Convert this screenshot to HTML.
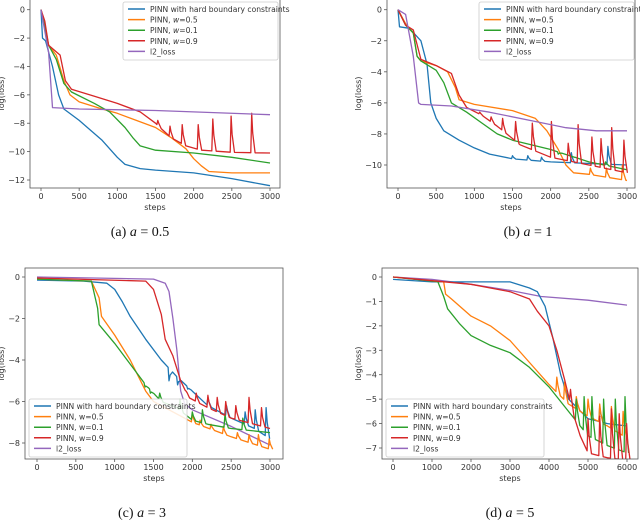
<!DOCTYPE html>
<html><head><meta charset="utf-8">
<style>
body{margin:0;background:#fff;}
svg{display:block;font-family:"DejaVu Sans","Liberation Sans",sans-serif;}
.cap{font-family:"Liberation Serif",serif;font-size:14px;}
</style></head>
<body>
<svg id="fig" width="640" height="532" viewBox="0 0 640 532"></svg>
<script>
const NS="http://www.w3.org/2000/svg";
const colors=["#1f77b4","#ff7f0e","#2ca02c","#d62728","#9467bd"];
const labels=["PINN with hard boundary constraints","PINN, w=0.5","PINN, w=0.1","PINN, w=0.9","l2_loss"];
const seriesNames=["hard-bc","w05","w01","w09","l2-loss"];

// ---- panel (a) data ----
const aXTicks=[0,500,1000,1500,2000,2500,3000];
const aYTicks=[0,-2,-4,-6,-8,-10,-12];
const aBlue=[[0,0],[20,-2],[60,-2.2],[150,-4],[230,-6],[300,-7],[500,-7.8],[800,-9.2],[1000,-10.4],[1100,-10.9],[1300,-11.2],[1500,-11.3],[2000,-11.5],[2500,-11.9],[3000,-12.4]];
const aOrange=[[0,0],[50,-1],[100,-2.5],[200,-3.2],[300,-5],[380,-6],[500,-6.5],[800,-7],[1000,-7.3],[1200,-7.7],[1500,-8.3],[1700,-9],[1900,-9.8],[2000,-10.5],[2100,-11],[2200,-11.4],[2500,-11.5],[3000,-11.5]];
const aGreen=[[0,0],[100,-2.5],[200,-3.5],[300,-5.2],[400,-5.8],[700,-6.6],[900,-7.2],[1100,-8.3],[1200,-9],[1300,-9.6],[1500,-9.9],[2000,-10.1],[2500,-10.4],[3000,-10.8]];
const aRed=[[0,0],[50,-0.8],[100,-2.5],[250,-3.2],[320,-5],[400,-5.6],[700,-6.1],[1000,-6.6],[1300,-7.2],[1500,-8],[1700,-9],[1900,-9.6],[2100,-9.9],[2500,-10.05],[3000,-10.1]];
const aRedSpikes=[[1530,-7.8],[1690,-8.2],[1850,-8.1],[2060,-8.1],[2250,-7.7],[2490,-7.5],[2760,-7.3]];
const aPurple=[[0,0],[100,-3],[150,-6.9],[500,-7],[1500,-7.1],[3000,-7.4]];

// ---- panel (b) data ----
const bXTicks=[0,500,1000,1500,2000,2500,3000];
const bYTicks=[0,-2,-4,-6,-8,-10];
const bBlue=[[0,0],[20,-1.1],[150,-1.2],[300,-2],[380,-3.5],[430,-6],[500,-7],[600,-7.8],[800,-8.4],[1000,-8.9],[1200,-9.3],[1500,-9.6],[2000,-9.8],[3000,-10]];
const bBlueSpikes=[[1500,-9.4],[1700,-9.4],[1880,-9.5],[2270,-9.2],[2750,-8.8]];
const bOrange=[[0,0],[100,-0.9],[200,-1.5],[250,-3],[300,-3.3],[500,-3.6],[650,-4],[750,-5],[800,-5.8],[1000,-6.1],[1500,-6.5],[1800,-7],[1950,-7.8],[2100,-9],[2200,-10],[2300,-10.5],[2500,-10.6],[3000,-11]];
const bOrangeSpikes=[[2520,-10.2],[2730,-10.2],[2940,-10]];
const bGreen=[[0,0],[100,-1],[200,-1.5],[250,-3],[300,-3.3],[500,-3.9],[600,-4.7],[700,-6],[900,-6.6],[1100,-7.3],[1300,-8],[1500,-8.4],[2000,-9],[2500,-9.8],[3000,-10.3]];
const bGreenSpikes=[[2100,-9.3],[2310,-9.5],[2720,-9.8]];
const bRed=[[0,0],[100,-1],[200,-1.3],[300,-3.2],[500,-3.6],[700,-4.1],[800,-5.5],[900,-6.3],[1100,-6.8],[1300,-7.5],[1600,-8.7],[2000,-9.5],[2500,-10],[3000,-10.5]];
const bRedSpikes=[[1070,-6.6],[1220,-6.9],[1370,-7],[1540,-7.2],[1760,-7.3],[2010,-7.2],[2230,-8.6],[2360,-7.4],[2540,-8.2],[2660,-8.3],[2800,-7.6],[2960,-8.4]];
const bPurple=[[0,0],[100,-0.3],[200,-3],[270,-6],[300,-6.1],[700,-6.2],[1200,-6.6],[1800,-7.2],[2200,-7.6],[2600,-7.8],[3000,-7.8]];

// ---- panel (c) data ----
const cXTicks=[0,500,1000,1500,2000,2500,3000];
const cYTicks=[0,-2,-4,-6,-8];
const cBlue=[[0,-0.15],[600,-0.2],[900,-0.3],[1000,-0.6],[1100,-1.2],[1200,-1.9],[1400,-3],[1600,-4],[1800,-4.8],[2000,-5.5],[2200,-6.2],[2500,-6.8],[2800,-7.3],[3000,-7.8]];
const cBlueSpikes=[[1700,-5],[1810,-5.2],[1940,-5.4],[2200,-5.8],[2440,-6.2],[2680,-6.5],[2810,-6.4],[2950,-6.3]];
const cOrange=[[0,-0.1],[700,-0.2],[800,-1],[830,-1.9],[1000,-2.8],[1200,-4],[1400,-5.5],[1500,-6],[2000,-7],[2500,-7.7],[3000,-8.3]];
const cOrangeSpikes=[[2000,-6.6],[2100,-6.9],[2240,-7.1],[2400,-7.2],[2580,-7.5],[2730,-7.6],[2850,-7.6],[2990,-7.8]];
const cGreen=[[0,-0.1],[700,-0.2],[780,-1.5],[800,-2.3],[1000,-3.2],[1200,-4.2],[1400,-5.2],[1600,-6],[1800,-6.3],[2000,-6.9],[2200,-7.1],[2500,-7.3],[3000,-7.5]];
const cGreenSpikes=[[1390,-5.3],[1460,-5.6],[1580,-5.6],[1840,-5.9],[2000,-6.5],[2130,-6.4],[2420,-6.6],[2650,-6.8]];
const cRed=[[0,-0.05],[1400,-0.2],[1500,-0.6],[1600,-1.8],[1650,-3],[1750,-3.8],[1850,-5],[1950,-5.8],[2200,-6.3],[2500,-6.8],[3000,-7.3]];
const cRedSpikes=[[1920,-5.5],[2050,-5.6],[2200,-5.7],[2320,-5.8],[2430,-6],[2560,-6.2],[2730,-5.8],[2890,-6.3]];
const cPurple=[[0,0],[1500,-0.1],[1650,-0.3],[1700,-0.7],[1750,-2],[1800,-3.5],[1850,-5.5],[1900,-6.1],[2000,-6.4],[2500,-7.2],[3000,-8.1]];

// ---- panel (d) data ----
const dXTicks=[0,1000,2000,3000,4000,5000,6000];
const dYTicks=[0,-1,-2,-3,-4,-5,-6,-7];
const dBlue=[[0,-0.1],[1000,-0.2],[3000,-0.2],[3500,-0.45],[3700,-0.6],[3900,-1.2],[4100,-2.5],[4300,-4],[4500,-5],[5000,-5.8],[5500,-6],[6000,-6.1]];
const dBlueSpikes=[[4400,-4.6],[4700,-5],[5300,-5.3]];
const dOrange=[[0,0],[1300,-0.2],[1350,-0.7],[1500,-0.9],[2000,-1.6],[2500,-2],[3000,-2.6],[3500,-3.5],[4000,-4.4],[4500,-5.2],[5000,-5.7],[5500,-6.1],[6000,-6.6]];
const dOrangeSpikes=[[4200,-4.1],[4400,-4.3],[4700,-4.9],[5000,-5],[5300,-5.2],[5600,-5.3],[5900,-5.5]];
const dGreen=[[0,0],[1150,-0.2],[1300,-0.8],[1400,-1.3],[1700,-1.9],[2000,-2.4],[2500,-2.8],[3000,-3.1],[3500,-3.7],[4000,-4.5],[4500,-5.5],[5000,-6.5],[5500,-6.9],[6000,-7.2]];
const dGreenSpikes=[[4700,-5],[4900,-4.9],[5100,-4.9],[5400,-5],[5700,-5],[5950,-4.9]];
const dRed=[[0,0],[1000,-0.15],[2000,-0.3],[3000,-0.6],[3500,-0.9],[3700,-1.4],[4000,-2],[4200,-3],[4400,-4.2],[4600,-5.5],[4800,-6.5],[5000,-7.2],[5500,-7.4],[6000,-7.5]];
const dRedSpikes=[[4550,-4.6],[5000,-5.8],[5300,-5.7],[5600,-5.4],[5800,-5.6],[5990,-6]];
const dPurple=[[0,0],[1000,-0.1],[2000,-0.3],[3000,-0.55],[3800,-0.8],[5000,-0.95],[6000,-1.15]];

const fig=document.getElementById('fig');
function mk(tag,attrs,parent){const e=document.createElementNS(NS,tag);for(const k in attrs)e.setAttribute(k,attrs[k]);(parent||fig).appendChild(e);return e;}
function interp(pts,x){for(let i=1;i<pts.length;i++){if(x<=pts[i][0]){const a=pts[i-1],b=pts[i];return a[1]+(b[1]-a[1])*(x-a[0])/(b[0]-a[0]);}}return pts[pts.length-1][1];}
function withSpikes(pts,spikes,xmax){
  if(!spikes)return pts;
  const out=pts.slice();const w=xmax*0.004,dec=xmax*0.015;
  spikes.forEach(s=>{out.push([s[0]-w,interp(pts,s[0]-w)]);out.push([s[0],s[1]]);out.push([s[0]+dec*0.3,(s[1]+interp(pts,s[0]+dec*0.3))/2]);out.push([s[0]+dec,interp(pts,s[0]+dec)]);});
  const keep=out.filter(p=>!spikes.some(s=>p[0]>s[0]-w&&p[0]<s[0]+dec&&pts.includes(p)));
  return keep.sort((a,b)=>a[0]-b[0]);
}

function panel(cfg){
  const g=mk('g',{});
  
  
  const X=v=>cfg.x0+(v-cfg.xmin)*(cfg.x1-cfg.x0)/(cfg.xmax-cfg.xmin);
  const Y=v=>cfg.y0+(v-cfg.ymin)*(cfg.y1-cfg.y0)/(cfg.ymax-cfg.ymin);
  // series
  const clip='clip-'+cfg.name;
  const cp=mk('clipPath',{id:clip},g);mk('rect',{x:cfg.fl,y:cfg.ft,width:cfg.fr-cfg.fl,height:cfg.fb-cfg.ft},cp);
  const sg=mk('g',{'clip-path':'url(#'+clip+')'},g);
  const order=cfg.order||[0,1,2,3,4];
  order.forEach(i=>{
    const pts=withSpikes(cfg.series[i],cfg.spikes[i],cfg.xmax);
    const d=pts.map((p,j)=>(j?'L':'M')+X(p[0]).toFixed(1)+','+Y(p[1]).toFixed(1)).join('');
    const p=mk('path',{d:d,fill:'none',stroke:colors[i],'stroke-width':1.3,'stroke-linejoin':'round'},sg);
    
    
  });
  // frame
  const fr=mk('rect',{x:cfg.fl,y:cfg.ft,width:cfg.fr-cfg.fl,height:cfg.fb-cfg.ft,fill:'none',stroke:'#555','stroke-width':0.8},g);
  
  
  cfg.xt.forEach(t=>{const x=X(t);mk('line',{x1:x,x2:x,y1:cfg.fb,y2:cfg.fb+3,stroke:'#555','stroke-width':0.8},g);
    const tx=mk('text',{x:x,y:cfg.fb+11,'font-size':8,'text-anchor':'middle',fill:'#333'},g);tx.textContent=t;
    
    });
  cfg.yt.forEach(t=>{const y=Y(t);mk('line',{x1:cfg.fl-3,x2:cfg.fl,y1:y,y2:y,stroke:'#555','stroke-width':0.8},g);
    const tx=mk('text',{x:cfg.fl-5,y:y+3,'font-size':8,'text-anchor':'end',fill:'#333'},g);tx.textContent=t<0?'\u2212'+(-t):t;
    
    });
  const xl=mk('text',{x:(cfg.fl+cfg.fr)/2,y:cfg.fb+22,'font-size':8,'text-anchor':'middle',fill:'#333'},g);xl.textContent='steps';
  
  
  const yl=mk('text',{x:0,y:0,'font-size':8,'text-anchor':'middle',fill:'#333',transform:`translate(${cfg.ylx},${(cfg.ft+cfg.fb)/2}) rotate(-90)`},g);yl.textContent='log(loss)';
  
  
  // legend
  const L=cfg.leg;
  const lg=mk('g',{},g);
  
  
  mk('rect',{x:L.x,y:L.y,width:L.w,height:L.h,fill:'#fff','fill-opacity':0.85,stroke:'#ccc','stroke-width':0.8,rx:2},lg);
  for(let i=0;i<5;i++){
    const yy=L.y+7+i*10.6;
    const e=mk('g',{},lg);
    
    
    mk('line',{x1:L.x+5,x2:L.x+22,y1:yy,y2:yy,stroke:colors[i],'stroke-width':1.5},e);
    const t=mk('text',{x:L.x+27,y:yy+3,'font-size':7.6,fill:'#333'},e);
    if(cfg.italicW&&i>=1&&i<=3){t.appendChild(document.createTextNode('PINN, '));const ts=mk('tspan',{'font-style':'italic'},t);ts.textContent='w';t.appendChild(document.createTextNode(labels[i].slice(7)));}
    else t.textContent=labels[i];
  }
  const c=mk('text',{x:cfg.capx,y:cfg.capy,'text-anchor':'middle',class:'cap',fill:'#111'},g);
  c.innerHTML=cfg.cap;
  
  
}

panel({name:'panel-a',fl:30,fr:280,ft:-1,fb:188,x0:41,x1:270,xmin:0,xmax:3000,y0:9.7,y1:180,ymin:0,ymax:-12,
  xt:aXTicks,yt:aYTicks,ylx:4,series:[aBlue,aOrange,aGreen,aRed,aPurple],spikes:[null,null,null,aRedSpikes,null],
  leg:{x:123,y:2,w:155,h:58},italicW:true,capx:140,capy:236,cap:'(a) <tspan font-style="italic">a</tspan> = 0.5'});
panel({name:'panel-b',fl:387,fr:635,ft:-1,fb:188,x0:398,x1:627,xmin:0,xmax:3000,y0:9.7,y1:165,ymin:0,ymax:-10,
  xt:bXTicks,yt:bYTicks,ylx:361,series:[bBlue,bOrange,bGreen,bRed,bPurple],spikes:[bBlueSpikes,bOrangeSpikes,bGreenSpikes,bRedSpikes,null],
  leg:{x:479,y:2,w:155,h:58},capx:528,capy:236,cap:'(b) <tspan font-style="italic">a</tspan> = 1'});
panel({name:'panel-c',fl:25,fr:283,ft:268,fb:459,x0:37,x1:270,xmin:0,xmax:3000,y0:277,y1:443,ymin:0,ymax:-8,
  xt:cXTicks,yt:cYTicks,ylx:4,series:[cBlue,cOrange,cGreen,cRed,cPurple],spikes:[cBlueSpikes,cOrangeSpikes,cGreenSpikes,cRedSpikes,null],
  order:[4,0,1,2,3],
  leg:{x:29,y:399,w:158,h:58},capx:142,capy:517,cap:'(c) <tspan font-style="italic">a</tspan> = 3'});
panel({name:'panel-d',fl:382,fr:638,ft:268,fb:459,x0:393,x1:627,xmin:0,xmax:6000,y0:277,y1:448,ymin:0,ymax:-7,
  xt:dXTicks,yt:dYTicks,ylx:361,series:[dBlue,dOrange,dGreen,dRed,dPurple],spikes:[dBlueSpikes,dOrangeSpikes,dGreenSpikes,dRedSpikes,null],
  order:[4,0,1,2,3],
  leg:{x:386,y:399,w:158,h:58},capx:510,capy:517,cap:'(d) <tspan font-style="italic">a</tspan> = 5'});
</script>
</body></html>
